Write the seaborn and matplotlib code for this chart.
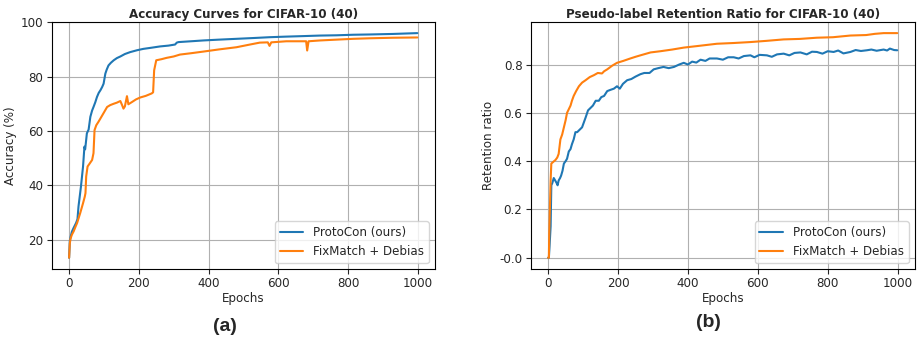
import pandas as pd
import matplotlib.pyplot as plt
import seaborn as sns

sns.set_theme(style="ticks")
plt.rcParams["font.family"] = ["DejaVu Sans"]

# (a) test accuracy
acc_epochs_proto = [0, 2, 4, 8, 13, 20, 24, 27, 34, 40, 44, 46, 48, 51, 56, 61, 66, 70, 75, 80, 85, 90, 95, 99,
                    104, 108, 113, 120, 128, 137, 147, 160, 175, 195, 213, 235, 261, 285, 304, 309, 314,
                    350, 385, 430, 480, 530, 576, 620, 671, 720, 767, 815, 862, 930, 999]
acc_proto = [13.3, 19.5, 20.8, 22.9, 24.3, 26.1, 27.5, 32.2, 39.5, 46.9, 54.2, 53.2, 55.5, 59.1, 60.5, 65.2, 67.5,
             68.8, 70.5, 72.5, 74.0, 75.0, 76.2, 77.4, 81.1, 82.6, 84.1, 85.1, 86.0, 86.8, 87.4, 88.3, 89.0,
             89.7, 90.2, 90.6, 91.1, 91.4, 91.8, 92.5, 92.7, 93.0, 93.3, 93.6, 93.9, 94.2, 94.5, 94.7, 94.9,
             95.1, 95.2, 95.4, 95.5, 95.7, 96.0]

acc_epochs_fix = [0, 2, 4, 8, 13, 18, 23, 32, 40, 45, 47, 49, 53, 58, 66, 70, 73, 78, 84, 90, 100, 109,
                  118, 128, 137, 147, 152, 156, 160, 166, 170, 180, 192, 204, 220, 237, 241, 244, 250, 265,
                  280, 300, 318, 350, 385, 430, 480, 519, 547, 570, 575, 580, 623, 680, 683, 687, 720, 767,
                  815, 862, 930, 999]
acc_fix = [13.3, 18.5, 20.3, 21.8, 23.0, 24.6, 26.1, 29.8, 33.4, 35.8, 37.1, 43.2, 46.9, 47.8, 49.3, 51.8, 60.3,
           62.1, 63.3, 64.6, 66.8, 68.8, 69.5, 70.0, 70.4, 71.0, 69.5, 68.2, 69.0, 72.8, 69.8, 70.6, 71.6,
           72.3, 72.9, 73.8, 74.2, 82.3, 86.0, 86.4, 86.9, 87.4, 88.1, 88.6, 89.2, 90.0, 90.8, 91.8, 92.5,
           92.6, 91.3, 92.6, 93.0, 93.0, 89.6, 93.0, 93.3, 93.6, 93.9, 94.1, 94.3, 94.4]

# (b) pseudo-label retention ratio
ret_epochs_proto = [0, 2, 4, 7, 9, 12, 16, 20, 24, 27, 30, 34, 37, 41, 45, 50, 54, 59, 64, 68, 73, 78, 83,
                    90, 97, 102, 107, 114, 121, 128, 136, 145, 152, 160, 169, 178, 188, 197, 205, 214, 226,
                    238, 250, 264, 275, 290, 302, 315, 330, 345, 360, 375, 388, 400, 412, 424, 436, 450, 462,
                    483, 500, 515, 531, 545, 560, 579, 590, 605, 626, 640, 655, 674, 690, 705, 722, 740, 755,
                    769, 785, 800, 817, 830, 845, 865, 880, 895, 912, 925, 940, 960, 970, 978, 990, 999]
ret_proto = [0.0, 0.0, 0.05, 0.13, 0.30, 0.31, 0.33, 0.32, 0.31, 0.30, 0.32, 0.33, 0.34, 0.36, 0.39, 0.40,
             0.41, 0.44, 0.45, 0.47, 0.49, 0.52, 0.52, 0.53, 0.54, 0.56, 0.58, 0.61, 0.62, 0.63, 0.65, 0.65,
             0.665, 0.67, 0.69, 0.695, 0.70, 0.71, 0.70, 0.72, 0.735, 0.74, 0.75, 0.76, 0.765, 0.765, 0.78,
             0.785, 0.79, 0.785, 0.79, 0.80, 0.807, 0.80, 0.812, 0.808, 0.82, 0.815, 0.825, 0.825, 0.82, 0.83,
             0.83, 0.825, 0.835, 0.838, 0.83, 0.84, 0.838, 0.832, 0.842, 0.845, 0.838, 0.848, 0.85, 0.842,
             0.853, 0.852, 0.845, 0.855, 0.852, 0.858, 0.846, 0.852, 0.86, 0.856, 0.859, 0.862, 0.857, 0.862,
             0.858, 0.866, 0.86, 0.859]

ret_epochs_fix = [0, 2, 3, 5, 7, 9, 13, 21, 26, 30, 35, 40, 45, 50, 54, 59, 64, 68, 73, 80, 88, 97, 107, 119,
                  131, 142, 154, 160, 169, 183, 197, 215, 235, 250, 264, 293, 321, 355, 388, 430, 483, 530,
                  579, 625, 674, 720, 769, 815, 865, 910, 935, 960, 999]
ret_fix = [0.0, 0.0, 0.10, 0.21, 0.32, 0.39, 0.395, 0.405, 0.415, 0.43, 0.49, 0.51, 0.54, 0.57, 0.60, 0.615,
           0.63, 0.65, 0.67, 0.69, 0.71, 0.725, 0.735, 0.748, 0.756, 0.765, 0.763, 0.772, 0.78, 0.795, 0.807,
           0.815, 0.825, 0.832, 0.838, 0.85, 0.855, 0.862, 0.87, 0.877, 0.886, 0.889, 0.893, 0.898, 0.904,
           0.906, 0.911, 0.913, 0.92, 0.922, 0.927, 0.93, 0.93]

labels = ["ProtoCon (ours)", "FixMatch + Debias"]
colors = ["#1f77b4", "#ff7f0e"]


def long_df(ep1, v1, ep2, v2):
    a = pd.DataFrame({"epoch": ep1, "value": v1, "method": labels[0]})
    b = pd.DataFrame({"epoch": ep2, "value": v2, "method": labels[1]})
    return pd.concat([a, b], ignore_index=True)


acc_df = long_df(acc_epochs_proto, acc_proto, acc_epochs_fix, acc_fix)
ret_df = long_df(ret_epochs_proto, ret_proto, ret_epochs_fix, ret_fix)

fig = plt.figure(figsize=(9.23, 3.53), dpi=100)
ax1 = fig.add_axes([0.056, 0.238, 0.415, 0.700])
ax2 = fig.add_axes([0.575, 0.238, 0.416, 0.700])

fs = 8.6
for ax, df in [(ax1, acc_df), (ax2, ret_df)]:
    sns.lineplot(data=df, x="epoch", y="value", hue="method", hue_order=labels,
                 palette=colors, linewidth=1.5, ax=ax, estimator=None, sort=True)
    ax.grid(True, color="#b0b0b0", linewidth=0.8)
    ax.set_xticks([0, 200, 400, 600, 800, 1000])
    ax.tick_params(labelsize=fs, length=3.5, width=0.8, pad=2.5)
    for s in ax.spines.values():
        s.set_linewidth(0.8)
        s.set_color("black")
    ax.set_xlabel("Epochs", fontsize=fs, labelpad=1)
    leg = ax.legend(loc="lower right", fontsize=fs, frameon=True, fancybox=True, framealpha=0.8)
    for line in leg.get_lines():
        line.set_linewidth(1.5)

ax1.set_ylabel("Accuracy (%)", fontsize=fs, labelpad=3)
ax1.set_yticks([20, 40, 60, 80, 100])
ax1.set_title("Accuracy Curves for CIFAR-10 (40)", fontsize=fs, fontweight="bold", pad=3)

ax2.set_ylabel("Retention ratio", fontsize=fs, labelpad=3)
ax2.set_yticks([0.0, 0.2, 0.4, 0.6, 0.8])
ax2.set_yticklabels(["-0.0", "0.2", "0.4", "0.6", "0.8"])
ax2.set_title("Pseudo-label Retention Ratio for CIFAR-10 (40)", fontsize=fs, fontweight="bold", pad=3)

fig.text(0.244, 0.075, "(a)", fontsize=14, fontweight="bold", ha="center", va="center",
         family="Liberation Sans")
fig.text(0.767, 0.087, "(b)", fontsize=14, fontweight="bold", ha="center", va="center",
         family="Liberation Sans")

fig.savefig("out.png", dpi=100)
plt.close(fig)
